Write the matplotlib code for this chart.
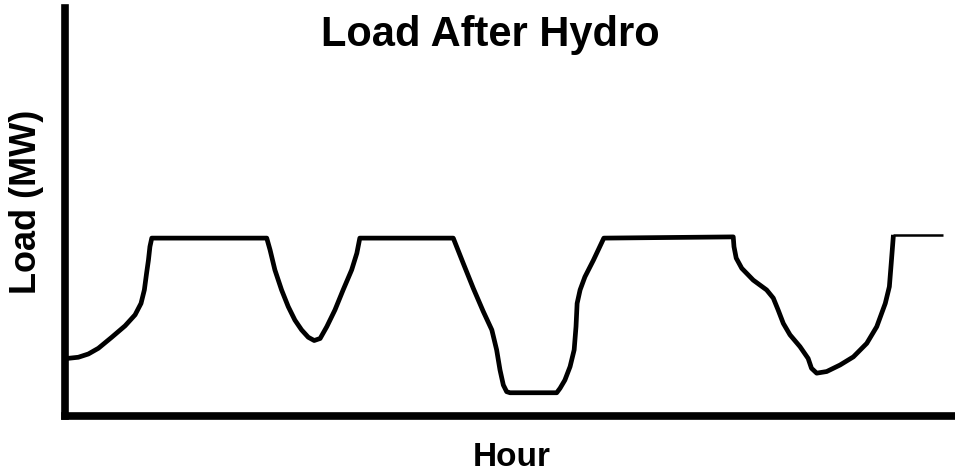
import matplotlib
matplotlib.use("Agg")
import matplotlib.pyplot as plt

# Load after hydro, hand-drawn-style daily profile (x: hour, y: load as % of axis height)
hours = [0.05, 0.36, 0.63, 0.90, 1.26, 1.62, 1.89, 2.05, 2.14, 2.20, 2.25, 2.29, 2.34,
         5.44, 5.53, 5.66, 5.84, 6.02, 6.20, 6.38, 6.56, 6.72, 6.88, 7.06, 7.28,
         7.50, 7.73, 7.87, 7.95,
         10.47, 10.74, 11.01, 11.28, 11.51, 11.64, 11.73, 11.82, 11.91, 12.00,
         13.26, 13.35, 13.48, 13.62, 13.73, 13.78, 13.81, 13.89, 14.02, 14.25, 14.53,
         18.02, 18.04, 18.10, 18.25, 18.56, 18.92, 19.10, 19.23, 19.37, 19.55,
         19.82, 20.04, 20.13, 20.27, 20.54, 20.90, 21.26, 21.62, 21.89, 22.12,
         22.23, 22.28, 22.34]
load = [14.1, 14.4, 15.2, 16.6, 19.3, 22.1, 24.8, 27.6, 30.9, 35.0, 38.2, 41.5, 43.6,
        43.6, 40.7, 35.8, 30.9, 26.8, 23.5, 21.1, 19.3, 18.5, 19.0, 21.9, 26.0,
        30.9, 35.8, 39.9, 43.6,
        43.6, 37.4, 31.3, 25.6, 21.1, 16.2, 11.3, 7.6, 5.96, 5.7,
        5.7, 6.8, 8.8, 12.1, 16.2, 21.9, 27.6, 30.9, 34.1, 38.2, 43.6,
        43.9, 41.5, 38.7, 36.2, 33.3, 30.9, 28.9, 26.0, 22.7, 19.9,
        17.0, 14.1, 11.7, 10.5, 10.9, 12.5, 14.5, 17.8, 21.9, 27.6,
        31.7, 37.4, 44.4]
# final plateau drawn with a thinner stroke
tail_hours = [22.34, 23.67]
tail_load = [44.4, 44.4]

title = "Load After Hydro"
xlabel = "Hour"
ylabel = "Load (MW)"

plt.rcParams['font.family'] = ['Liberation Sans', 'DejaVu Sans']

fig = plt.figure(figsize=(9.55, 4.75), dpi=100)
ax = fig.add_axes([65 / 955, (475 - 416) / 475, 890 / 955, (416 - 8) / 475])
ax.plot(hours, load, color='black', lw=3.4, solid_joinstyle='round', solid_capstyle='butt')
ax.plot(tail_hours, tail_load, color='black', lw=1.8, solid_capstyle='butt')
ax.set_xlim(0, 24)
ax.set_ylim(0, 100)
ax.set_xticks([])
ax.set_yticks([])
for s in ['top', 'right']:
    ax.spines[s].set_visible(False)
for s in ['left', 'bottom']:
    ax.spines[s].set_linewidth(5.5)
    ax.spines[s].set_capstyle('projecting')

fig.text(490 / 955, (475 - 46) / 475, title, ha='center', va='baseline',
         fontsize=30, fontweight='bold')
fig.text(27 / 955, (475 - 202) / 475, ylabel, ha='center', va='center',
         rotation=90, fontsize=26, fontweight='bold')
fig.text(512 / 955, (475 - 458) / 475, xlabel, ha='center', va='center',
         fontsize=24, fontweight='bold')

fig.savefig("out.png", dpi=100)
